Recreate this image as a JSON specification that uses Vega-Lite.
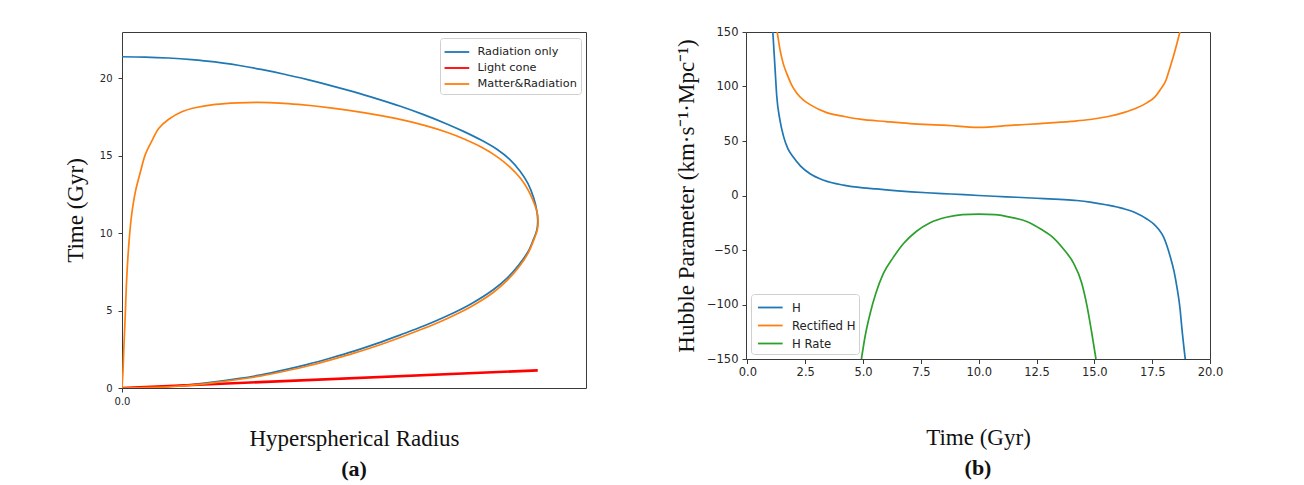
{
"$schema": "https://vega.github.io/schema/vega-lite/v6.json",
"background": "white",
"padding": {"left": 63, "top": 25, "right": 5, "bottom": 0},
"spacing": 87,
"datasets": {
"left": [
{"s":"Radiation only","i":0,"r":0,"t":0},{"s":"Radiation only","i":1,"r":0.05,"t":0.03},{"s":"Radiation only","i":2,"r":0.1,"t":0.1},{"s":"Radiation only","i":3,"r":0.15,"t":0.22},{"s":"Radiation only","i":4,"r":0.2,"t":0.39},{"s":"Radiation only","i":5,"r":0.25,"t":0.6},{"s":"Radiation only","i":6,"r":0.3,"t":0.85},{"s":"Radiation only","i":7,"r":0.35,"t":1.17},{"s":"Radiation only","i":8,"r":0.4,"t":1.53},{"s":"Radiation only","i":9,"r":0.45,"t":1.94},{"s":"Radiation only","i":10,"r":0.5,"t":2.38},{"s":"Radiation only","i":11,"r":0.55,"t":2.88},{"s":"Radiation only","i":12,"r":0.6,"t":3.43},{"s":"Radiation only","i":13,"r":0.65,"t":4.0},{"s":"Radiation only","i":14,"r":0.7,"t":4.65},{"s":"Radiation only","i":15,"r":0.75,"t":5.4},{"s":"Radiation only","i":16,"r":0.8,"t":6.35},{"s":"Radiation only","i":17,"r":0.83,"t":7.1},{"s":"Radiation only","i":18,"r":0.855,"t":7.95},{"s":"Radiation only","i":19,"r":0.875,"t":8.8},{"s":"Radiation only","i":20,"r":0.887,"t":9.62},{"s":"Radiation only","i":21,"r":0.894,"t":10.2},{"s":"Radiation only","i":22,"r":0.896,"t":10.75},{"s":"Radiation only","i":23,"r":0.894,"t":11.45},{"s":"Radiation only","i":24,"r":0.887,"t":12.3},{"s":"Radiation only","i":25,"r":0.875,"t":13.2},{"s":"Radiation only","i":26,"r":0.858,"t":14.0},{"s":"Radiation only","i":27,"r":0.835,"t":14.78},{"s":"Radiation only","i":28,"r":0.808,"t":15.42},{"s":"Radiation only","i":29,"r":0.775,"t":16.0},{"s":"Radiation only","i":30,"r":0.736,"t":16.58},{"s":"Radiation only","i":31,"r":0.7,"t":17.06},{"s":"Radiation only","i":32,"r":0.65,"t":17.66},{"s":"Radiation only","i":33,"r":0.6,"t":18.2},{"s":"Radiation only","i":34,"r":0.55,"t":18.68},{"s":"Radiation only","i":35,"r":0.5,"t":19.13},{"s":"Radiation only","i":36,"r":0.45,"t":19.54},{"s":"Radiation only","i":37,"r":0.4,"t":19.92},{"s":"Radiation only","i":38,"r":0.35,"t":20.27},{"s":"Radiation only","i":39,"r":0.3,"t":20.58},{"s":"Radiation only","i":40,"r":0.25,"t":20.85},{"s":"Radiation only","i":41,"r":0.2,"t":21.07},{"s":"Radiation only","i":42,"r":0.15,"t":21.22},{"s":"Radiation only","i":43,"r":0.1,"t":21.32},{"s":"Radiation only","i":44,"r":0.05,"t":21.38},{"s":"Radiation only","i":45,"r":0,"t":21.4},
{"s":"Light cone","i":0,"r":0,"t":0},{"s":"Light cone","i":1,"r":0.896,"t":1.14},
{"s":"Matter&Radiation","i":0,"r":0,"t":0},{"s":"Matter&Radiation","i":1,"r":0.05,"t":0.02},{"s":"Matter&Radiation","i":2,"r":0.1,"t":0.08},{"s":"Matter&Radiation","i":3,"r":0.15,"t":0.19},{"s":"Matter&Radiation","i":4,"r":0.2,"t":0.35},{"s":"Matter&Radiation","i":5,"r":0.25,"t":0.55},{"s":"Matter&Radiation","i":6,"r":0.3,"t":0.78},{"s":"Matter&Radiation","i":7,"r":0.35,"t":1.08},{"s":"Matter&Radiation","i":8,"r":0.4,"t":1.42},{"s":"Matter&Radiation","i":9,"r":0.45,"t":1.82},{"s":"Matter&Radiation","i":10,"r":0.5,"t":2.25},{"s":"Matter&Radiation","i":11,"r":0.55,"t":2.73},{"s":"Matter&Radiation","i":12,"r":0.6,"t":3.27},{"s":"Matter&Radiation","i":13,"r":0.65,"t":3.84},{"s":"Matter&Radiation","i":14,"r":0.7,"t":4.48},{"s":"Matter&Radiation","i":15,"r":0.75,"t":5.22},{"s":"Matter&Radiation","i":16,"r":0.8,"t":6.17},{"s":"Matter&Radiation","i":17,"r":0.83,"t":6.95},{"s":"Matter&Radiation","i":18,"r":0.855,"t":7.8},{"s":"Matter&Radiation","i":19,"r":0.875,"t":8.7},{"s":"Matter&Radiation","i":20,"r":0.888,"t":9.6},{"s":"Matter&Radiation","i":21,"r":0.895,"t":10.2},{"s":"Matter&Radiation","i":22,"r":0.897,"t":10.75},{"s":"Matter&Radiation","i":23,"r":0.895,"t":11.3},{"s":"Matter&Radiation","i":24,"r":0.888,"t":11.95},{"s":"Matter&Radiation","i":25,"r":0.876,"t":12.75},{"s":"Matter&Radiation","i":26,"r":0.86,"t":13.5},{"s":"Matter&Radiation","i":27,"r":0.835,"t":14.3},{"s":"Matter&Radiation","i":28,"r":0.808,"t":14.95},{"s":"Matter&Radiation","i":29,"r":0.775,"t":15.55},{"s":"Matter&Radiation","i":30,"r":0.736,"t":16.1},{"s":"Matter&Radiation","i":31,"r":0.7,"t":16.52},{"s":"Matter&Radiation","i":32,"r":0.65,"t":16.98},{"s":"Matter&Radiation","i":33,"r":0.592,"t":17.4},{"s":"Matter&Radiation","i":34,"r":0.524,"t":17.78},{"s":"Matter&Radiation","i":35,"r":0.449,"t":18.1},{"s":"Matter&Radiation","i":36,"r":0.38,"t":18.32},{"s":"Matter&Radiation","i":37,"r":0.34,"t":18.41},{"s":"Matter&Radiation","i":38,"r":0.294,"t":18.45},{"s":"Matter&Radiation","i":39,"r":0.25,"t":18.42},{"s":"Matter&Radiation","i":40,"r":0.201,"t":18.32},{"s":"Matter&Radiation","i":41,"r":0.16,"t":18.12},{"s":"Matter&Radiation","i":42,"r":0.129,"t":17.85},{"s":"Matter&Radiation","i":43,"r":0.1,"t":17.35},{"s":"Matter&Radiation","i":44,"r":0.079,"t":16.77},{"s":"Matter&Radiation","i":45,"r":0.065,"t":16.0},{"s":"Matter&Radiation","i":46,"r":0.05,"t":15.06},{"s":"Matter&Radiation","i":47,"r":0.04,"t":14.0},{"s":"Matter&Radiation","i":48,"r":0.029,"t":12.7},{"s":"Matter&Radiation","i":49,"r":0.02,"t":11.0},{"s":"Matter&Radiation","i":50,"r":0.014,"t":9.0},{"s":"Matter&Radiation","i":51,"r":0.01,"t":7.0},{"s":"Matter&Radiation","i":52,"r":0.007,"t":4.7},{"s":"Matter&Radiation","i":53,"r":0.004,"t":2.6},{"s":"Matter&Radiation","i":54,"r":0.002,"t":1.0},{"s":"Matter&Radiation","i":55,"r":0,"t":0}
],
"right": [
{"s":"H","t":1.10,"h":150},{"s":"H","t":1.2,"h":115},{"s":"H","t":1.27,"h":91},{"s":"H","t":1.4,"h":70},{"s":"H","t":1.56,"h":54.5},{"s":"H","t":1.75,"h":43},{"s":"H","t":1.99,"h":35},{"s":"H","t":2.3,"h":27},{"s":"H","t":2.71,"h":20},{"s":"H","t":3.3,"h":14},{"s":"H","t":4.15,"h":9.5},{"s":"H","t":5.0,"h":7},{"s":"H","t":5.59,"h":6},{"s":"H","t":6.5,"h":4.3},{"s":"H","t":7.76,"h":2.5},{"s":"H","t":8.8,"h":1.4},{"s":"H","t":10,"h":0},{"s":"H","t":11.2,"h":-1.2},{"s":"H","t":12.5,"h":-2.5},{"s":"H","t":13.5,"h":-3.6},{"s":"H","t":14.24,"h":-4.6},{"s":"H","t":14.82,"h":-6},{"s":"H","t":15.5,"h":-8.5},{"s":"H","t":16.26,"h":-12.1},{"s":"H","t":16.8,"h":-16},{"s":"H","t":17.27,"h":-21.5},{"s":"H","t":17.56,"h":-26},{"s":"H","t":17.78,"h":-31},{"s":"H","t":17.99,"h":-38},{"s":"H","t":18.28,"h":-56},{"s":"H","t":18.45,"h":-70},{"s":"H","t":18.57,"h":-84},{"s":"H","t":18.7,"h":-103},{"s":"H","t":18.79,"h":-123},{"s":"H","t":18.93,"h":-150},
{"s":"Rectified H","t":1.29,"h":150},{"s":"Rectified H","t":1.4,"h":135},{"s":"Rectified H","t":1.55,"h":121},{"s":"Rectified H","t":1.7,"h":112},{"s":"Rectified H","t":1.9,"h":102},{"s":"Rectified H","t":2.13,"h":94},{"s":"Rectified H","t":2.4,"h":88},{"s":"Rectified H","t":2.71,"h":83.4},{"s":"Rectified H","t":3.43,"h":76},{"s":"Rectified H","t":4.2,"h":72.5},{"s":"Rectified H","t":4.87,"h":70},{"s":"Rectified H","t":6,"h":67.8},{"s":"Rectified H","t":7.04,"h":66},{"s":"Rectified H","t":8.5,"h":64.5},{"s":"Rectified H","t":10,"h":62.5},{"s":"Rectified H","t":11.5,"h":64.5},{"s":"Rectified H","t":12.66,"h":66},{"s":"Rectified H","t":14,"h":68},{"s":"Rectified H","t":14.82,"h":69.7},{"s":"Rectified H","t":15.6,"h":72.5},{"s":"Rectified H","t":16.26,"h":76},{"s":"Rectified H","t":16.8,"h":80},{"s":"Rectified H","t":17.27,"h":85},{"s":"Rectified H","t":17.6,"h":90},{"s":"Rectified H","t":17.85,"h":97},{"s":"Rectified H","t":18.1,"h":106},{"s":"Rectified H","t":18.28,"h":118},{"s":"Rectified H","t":18.45,"h":130},{"s":"Rectified H","t":18.57,"h":139.5},{"s":"Rectified H","t":18.7,"h":150},
{"s":"H Rate","t":4.93,"h":-150},{"s":"H Rate","t":5.1,"h":-128},{"s":"H Rate","t":5.31,"h":-108},{"s":"H Rate","t":5.55,"h":-90},{"s":"H Rate","t":5.88,"h":-71.5},{"s":"H Rate","t":6.3,"h":-57},{"s":"H Rate","t":6.75,"h":-44},{"s":"H Rate","t":7.3,"h":-33},{"s":"H Rate","t":7.9,"h":-25},{"s":"H Rate","t":8.6,"h":-20},{"s":"H Rate","t":9.3,"h":-17.5},{"s":"H Rate","t":10,"h":-17},{"s":"H Rate","t":10.7,"h":-17.5},{"s":"H Rate","t":11.4,"h":-20},{"s":"H Rate","t":12.1,"h":-24},{"s":"H Rate","t":12.7,"h":-31},{"s":"H Rate","t":13.24,"h":-39},{"s":"H Rate","t":13.7,"h":-50},{"s":"H Rate","t":14.1,"h":-62},{"s":"H Rate","t":14.45,"h":-80},{"s":"H Rate","t":14.68,"h":-101},{"s":"H Rate","t":14.88,"h":-125},{"s":"H Rate","t":15.07,"h":-150}
]
},
"hconcat": [
{
"width": 464, "height": 356,
"data": {"name": "left"},
"title": {"text": "(a)", "orient": "bottom", "anchor": "middle", "offset": 9},
"mark": {"type": "line", "clip": true, "interpolate": "catmull-rom"},
"encoding": {
"x": {"field": "r", "type": "quantitative", "scale": {"domain": [0, 1], "nice": false, "zero": false},
"axis": {"values": [0], "format": ".1f", "labelFlush": false, "title": "Hyperspherical Radius", "labelFontSize": 10, "tickSize": 4, "labelPadding": 4, "titlePadding": 21}},
"y": {"field": "t", "type": "quantitative", "scale": {"domain": [0, 23], "nice": false, "zero": false},
"axis": {"values": [0, 5, 10, 15, 20], "labelFlush": false, "title": "Time (Gyr)", "labelFontSize": 10, "tickSize": 4, "labelPadding": 6, "titlePadding": 12}},
"color": {"field": "s", "type": "nominal",
"scale": {"domain": ["Radiation only", "Light cone", "Matter&Radiation"], "range": ["#1f77b4", "#ff0000", "#ff7f0e"]},
"legend": {"title": null, "orient": "top-right", "offset": 5.5, "fillColor": "white", "strokeColor": "#d0d0d0", "cornerRadius": 3, "padding": 4, "rowPadding": 0, "symbolType": "M-1.08,0H1.743", "symbolSize": 306, "symbolStrokeWidth": 1.8, "labelFont": "DejaVu Sans", "labelFontSize": 11.3, "labelColor": "#222222", "labelOffset": 13.5}},
"order": {"field": "i", "type": "quantitative"},
"strokeWidth": {"condition": {"test": "datum.s === 'Light cone'", "value": 2.6}, "value": 1.7}
}
},
{
"width": 464, "height": 327,
"data": {"name": "right"},
"title": {"text": "(b)", "orient": "bottom", "anchor": "middle", "offset": 9},
"mark": {"type": "line", "clip": true, "strokeWidth": 1.7, "interpolate": "monotone"},
"encoding": {
"x": {"field": "t", "type": "quantitative", "scale": {"domain": [-0.06, 20], "nice": false, "zero": false},
"axis": {"values": [0, 2.5, 5, 7.5, 10, 12.5, 15, 17.5, 20], "format": ".1f", "labelFlush": false, "title": "Time (Gyr)", "labelFontSize": 11.5, "tickSize": 4.5, "labelPadding": 3, "titlePadding": 48}},
"y": {"field": "h", "type": "quantitative", "scale": {"domain": [-150, 150], "nice": false, "zero": false},
"axis": {"values": [-150, -100, -50, 0, 50, 100, 150], "labelFlush": false, "title": "Hubble Parameter (km·s⁻¹·Mpc⁻¹)", "labelFontSize": 11.5, "tickSize": 4, "labelPadding": 4, "titlePadding": 8}},
"color": {"field": "s", "type": "nominal",
"scale": {"domain": ["H", "Rectified H", "H Rate"], "range": ["#1f77b4", "#ff7f0e", "#2ca02c"]},
"legend": {"title": null, "orient": "bottom-left", "offset": 5, "fillColor": "white", "strokeColor": "#d0d0d0", "cornerRadius": 3, "padding": 3, "rowPadding": 0, "symbolType": "M-0.708,0H1.96", "symbolSize": 342, "symbolStrokeWidth": 1.8, "labelFont": "DejaVu Sans", "labelFontSize": 11.7, "labelColor": "#222222", "labelOffset": 17}}
}
}
],
"resolve": {"scale": {"color": "independent"}, "legend": {"color": "independent"}},
"config": {
"view": {"stroke": "#3a3a3a", "strokeWidth": 1},
"axis": {"grid": false, "domain": false, "tickColor": "#3a3a3a", "labelFont": "DejaVu Sans", "labelColor": "#262626", "titleFont": "Liberation Serif", "titleFontWeight": "normal", "titleColor": "#111111", "titleFontSize": 23},
"title": {"font": "Liberation Serif", "fontSize": 22, "fontWeight": "bold", "color": "#111111"}
}
}
